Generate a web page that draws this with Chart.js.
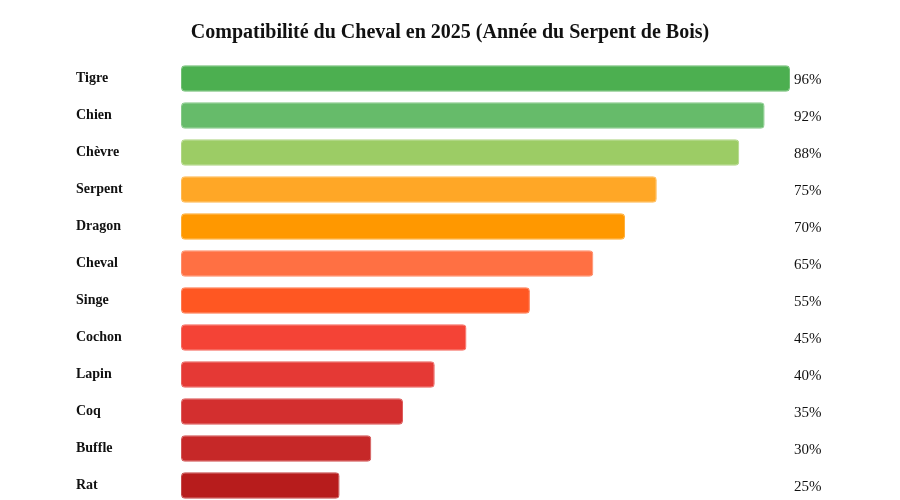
<!DOCTYPE html>
<html>
<head>
<meta charset="utf-8">
<script src="https://cdn.jsdelivr.net/npm/chart.js@4.4.0/dist/chart.umd.min.js"></script>
<style>
	html, body { margin: 0; padding: 0; background: #fff; overflow: hidden; }
	#wrap { width: 900px; height: 520px; }
</style>
</head>
<body>
<div id="wrap"><canvas id="compat"></canvas></div>
<script>
const signes = ['Tigre', 'Chien', 'Chèvre', 'Serpent', 'Dragon', 'Cheval', 'Singe', 'Cochon', 'Lapin', 'Coq', 'Buffle', 'Rat'];
const compatibilite = [96, 92, 88, 75, 70, 65, 55, 45, 40, 35, 30, 25];
const couleurs = ['#4CAF50', '#66BB6A', '#9CCC65', '#FFA726', '#FF9800', '#FF7043', '#FF5722', '#F44336', '#E53935', '#D32F2F', '#C62828', '#B71C1C'];

const serif = '"Liberation Serif", "Times New Roman", serif';

new Chart(document.getElementById('compat'), {
	type: 'bar',
	data: {
		labels: signes,
		datasets: [
			{
				data: compatibilite,
				backgroundColor: couleurs,
				borderColor: couleurs.map((c) => c + 'cc'),
				borderWidth: 1,
				borderRadius: 4,
				borderSkipped: false,
				barPercentage: 0.9,
				categoryPercentage: 0.8,
			},
		],
	},
	options: {
		indexAxis: 'y',
		responsive: true,
		maintainAspectRatio: false,
		animation: false,
		layout: {
			padding: { left: 76, right: 76, top: 0, bottom: 16 },
		},
		scales: {
			x: {
				display: false,
				min: 0,
				max: Math.max(...compatibilite),
			},
			y: {
				grid: { display: false },
				border: { display: false },
				afterFit(scale) {
					scale.width = 105;
				},
				ticks: {
					crossAlign: 'far',
					labelOffset: -0.5,
					color: '#111',
					font: { family: serif, size: 14, weight: 'bold' },
				},
			},
			// pourcentages à droite des barres
			y2: {
				type: 'category',
				position: 'right',
				labels: signes,
				grid: { display: false, drawTicks: false },
				border: { display: false },
				afterFit(scale) {
					scale.width = 34;
				},
				ticks: {
					padding: 4,
					labelOffset: 1.5,
					color: '#111',
					font: { family: serif, size: 15 },
					callback: (v, i) => compatibilite[i] + '%',
				},
			},
		},
		plugins: {
			legend: { display: false },
			tooltip: { enabled: false },
			title: {
				display: true,
				text: 'Compatibilité du Cheval en 2025 (Année du Serpent de Bois)',
				color: '#111',
				font: { family: serif, size: 20, weight: 'bold' },
				padding: { top: 21, bottom: 15 },
			},
		},
	},
});
</script>
</body>
</html>
